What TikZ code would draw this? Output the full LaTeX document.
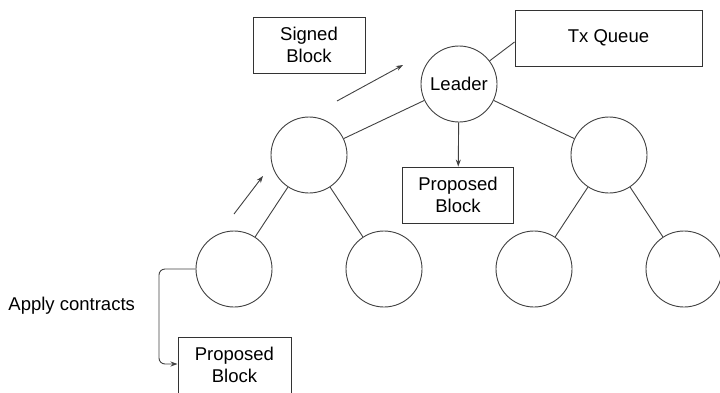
\documentclass[tikz,border=0pt]{standalone}
\usepackage{fontspec}
\setmainfont{Liberation Sans}
\usetikzlibrary{arrows.meta}
\begin{document}
\begin{tikzpicture}[x=1pt,y=-1pt,
  line width=0.9pt,
  every node/.style={font=\fontsize{18.5}{22.5}\selectfont},
  peer/.style={draw=black!75,circle,minimum size=76pt,inner sep=0pt},
  boxnode/.style={draw=black!80,rectangle,align=center,inner sep=0pt},
  tree/.style={draw=black!75},
  arr/.style={draw=black!75,-{Stealth[length=7pt,width=5pt]}}]
\useasboundingbox (0,0) rectangle (720,392);
\clip (0,0) rectangle (720,392);
% peers
\node[peer] (leader) at (459,84) {Leader};
\node[peer] (ml) at (309,155) {};
\node[peer] (mr) at (609,155) {};
\node[peer] (b1) at (234,269) {};
\node[peer] (b2) at (384,269) {};
\node[peer] (b3) at (534,269) {};
\node[peer] (b4) at (684,269) {};
% boxes
\node[boxnode,minimum width=187pt,minimum height=56pt] (txq) at (608.5,38) {Tx Queue};
\node[boxnode,minimum width=112pt,minimum height=56pt] (signed) at (309,45) {Signed\\Block};
\node[boxnode,minimum width=111pt,minimum height=56pt] (prop) at (458,195) {Proposed\\Block};
\node[boxnode,minimum width=113pt,minimum height=56pt,anchor=north west] (prop2) at (177.5,336.5) {Proposed\\Block};
\node[anchor=west,inner sep=2pt] (apply) at (6,306) {Apply contracts};
% tree edges
\draw[tree] (leader) -- (ml);
\draw[tree] (leader) -- (mr);
\draw[tree] (ml) -- (b1);
\draw[tree] (ml) -- (b2);
\draw[tree] (mr) -- (b3);
\draw[tree] (mr) -- (b4);
\draw[tree] (leader) -- (txq.west |- 0,42);
% arrows
\draw[arr] (leader) -- (prop);
\coordinate (s1) at (337,101);
\coordinate (e1) at (403,65);
\draw[arr] (s1) -- (e1);
\coordinate (s2) at (234,214);
\coordinate (e2) at (263,176);
\draw[arr] (s2) -- (e2);
\draw[arr,rounded corners=6pt] (b1.west) -- (159,269) -- (159,364) -- (prop2.west |- 0,364);
\end{tikzpicture}
\end{document}
